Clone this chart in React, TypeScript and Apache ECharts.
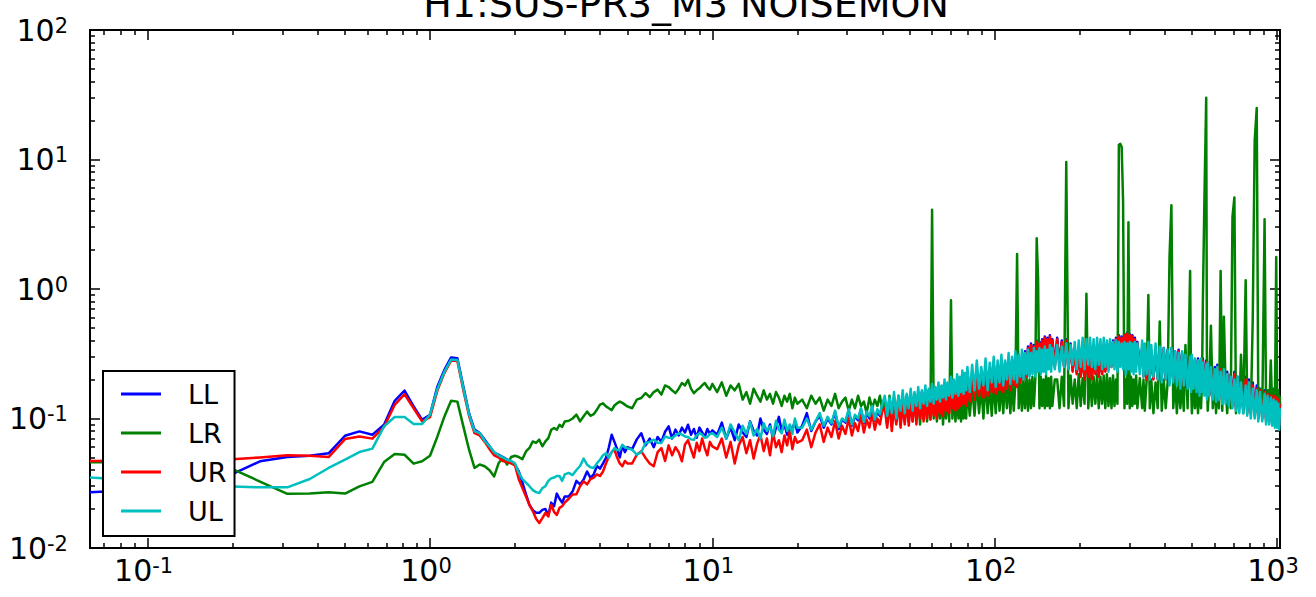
import React, { useEffect, useRef } from 'react';
import * as echarts from 'echarts';

// Frequency bins (Hz)
const freq = [
  0.0625, 0.125, 0.1875, 0.25, 0.3125, 0.375, 0.4375, 0.5, 0.5625, 0.625, 0.6875, 0.75, 0.8125, 0.875, 0.9375, 1,
  1.0625, 1.125, 1.1875, 1.25, 1.3125, 1.375, 1.4375, 1.5, 1.5625, 1.625, 1.6875, 1.75, 1.8125, 1.875, 1.9375, 2,
  2.0625, 2.125, 2.1875, 2.25, 2.3125, 2.375, 2.4375, 2.5, 2.5625, 2.625, 2.6875, 2.75, 2.8125, 2.875, 2.9375, 3,
  3.1, 3.2, 3.3, 3.4, 3.5, 3.6, 3.7, 3.8, 3.9, 4, 4.1, 4.2, 4.3, 4.4, 4.5, 4.6, 4.7, 4.8, 4.9, 5,
  5.2, 5.4, 5.6, 5.8, 6, 6.2, 6.4, 6.6, 6.8, 7, 7.2, 7.4, 7.6, 7.8, 8, 8.2, 8.4, 8.6, 8.8, 9, 9.2, 9.4, 9.6, 9.8, 10,
  10.4, 10.8, 11.2, 11.6, 12, 12.4, 12.8, 13.2, 13.6, 14, 14.4, 14.8, 15.2, 15.6, 16, 16.4, 16.8, 17.2, 17.6, 18, 18.4, 18.8, 19.2, 19.6, 20,
  20.8, 21.6, 22.4, 23.2, 24, 24.8, 25.6, 26.4, 27.2, 28, 28.8, 29.6, 30.4, 31.2, 32, 32.8, 33.6, 34.4, 35.2, 36, 36.8, 37.6, 38.4, 39.2, 40,
  40.8, 41.6, 42.4, 43.2, 44, 44.8, 45.6, 46.4, 47.2, 48, 48.8, 49.6, 50.4, 51.2, 52, 52.8, 53.6, 54.4, 55.2, 56,
  56.8, 57.6, 58.4, 59.2, 60, 60.8, 61.6, 62.4, 63.2, 64, 64.8, 65.6, 66.4, 67.2, 68, 69, 70, 70.8, 71.6, 72.6,
  73.6, 74.4, 75.2, 76, 76.8, 77.6, 78.4, 79.2, 80, 81.6,
  83.2, 84.8, 86.4, 88, 89.6, 91.2, 92.8, 94.4, 96, 97.6, 99.2, 100.8, 102.4, 104, 105.6, 107.2, 108.8, 110.4, 112, 113.6,
  115.2, 116.8, 118.4, 120, 121.6, 123.2, 124.8, 126.4, 128, 129.6, 131.2, 132.8, 134.4, 136, 137.6, 139.2, 140.8, 142.4, 144, 145.6,
  147.2, 148.8, 150.4, 152, 153.6, 155.2, 156.8, 158.4, 160, 163.2,
  166.4, 169.6, 172.8, 176, 179.2, 182.4, 185.6, 188.8, 192, 195.2, 198.4, 201.6, 204.8, 208, 211.2, 214.4, 217.6, 220.8, 224, 227.2,
  230.4, 233.6, 236.8, 240, 243.2, 246.4, 249.6, 252.8, 256, 259.2, 262.4, 265.6, 268.8, 272, 275.2, 278.4, 281.6, 284.8, 288, 291.2,
  294.4, 297.5, 300.8, 304, 307.2, 310.4, 313.6, 316.8, 320, 326.4,
  332.8, 336.4, 340, 345, 350, 354.2, 358.4, 364.8, 371.2, 377.6, 384, 390.4, 396.8, 403.2, 409.6, 416, 422.4, 428.8, 435.2, 441.6,
  448, 454.4, 460.8, 467.2, 473.6, 482, 492, 495.6, 499.2, 505.6, 512, 518.4, 524.8, 531.2, 537.6, 542, 546, 553, 561, 564.5,
  568, 575.5, 583, 592, 601.6, 608, 614.4, 622.7, 631, 639.5, 648, 656.8,
  665.6, 675, 685, 695, 706, 715, 725, 735, 745, 759, 774, 784, 795, 807, 820, 833, 847, 858, 870, 886,
  903, 914, 925, 937, 950, 961, 972, 982, 993, 1001, 1010, 1017, 1024,
];

const LL = [
  0.027, 0.029, 0.035, 0.0467, 0.0504, 0.0516, 0.0538, 0.0736, 0.0795, 0.075, 0.0895, 0.137, 0.1645, 0.124, 0.0978, 0.107,
  0.177, 0.238, 0.296, 0.292, 0.177, 0.11, 0.082, 0.0772, 0.0686, 0.061, 0.0542, 0.0525, 0.0504, 0.0481, 0.0467, 0.0441,
  0.039, 0.032, 0.026, 0.0215, 0.0196, 0.0187, 0.0187, 0.0197, 0.02, 0.018, 0.0224, 0.021, 0.0263, 0.024, 0.0224, 0.025,
  0.025, 0.0274, 0.033, 0.031, 0.0338, 0.039, 0.0348, 0.037, 0.043, 0.041, 0.045, 0.0496, 0.06, 0.075, 0.066, 0.058, 0.05, 0.062, 0.055, 0.06,
  0.058, 0.069, 0.077, 0.062, 0.07, 0.06, 0.072, 0.066, 0.079, 0.087, 0.07, 0.082, 0.074, 0.085, 0.078, 0.0895, 0.075, 0.083, 0.071, 0.085, 0.078, 0.072, 0.083, 0.076, 0.081,
  0.075, 0.093, 0.07, 0.085, 0.068, 0.09, 0.078, 0.072, 0.095, 0.08, 0.074, 0.1, 0.082, 0.076, 0.09, 0.07, 0.085, 0.103, 0.08, 0.09, 0.075, 0.088, 0.082, 0.095, 0.078,
  0.088, 0.11, 0.08, 0.095, 0.105, 0.085, 0.1, 0.09, 0.112, 0.083, 0.098, 0.093, 0.115, 0.088, 0.104, 0.097, 0.118, 0.092, 0.11, 0.1, 0.12, 0.096, 0.113, 0.105, 0.125,
  0.135, 0.09, 0.14, 0.088, 0.135, 0.095, 0.145, 0.09, 0.14, 0.098, 0.15, 0.095, 0.145, 0.1, 0.155, 0.098, 0.15, 0.105, 0.16, 0.1,
  0.155, 0.108, 0.165, 0.105, 0.16, 0.11, 0.17, 0.108, 0.165, 0.115, 0.175, 0.11, 0.17, 0.12, 0.18, 0.115, 0.185, 0.125, 0.18, 0.12,
  0.19, 0.125, 0.2, 0.13, 0.195, 0.135, 0.21, 0.13, 0.22, 0.14,
  0.21, 0.15, 0.23, 0.155, 0.22, 0.15, 0.25, 0.16, 0.24, 0.165, 0.26, 0.16, 0.25, 0.17, 0.28, 0.165, 0.27, 0.175, 0.29, 0.17,
  0.28, 0.185, 0.3, 0.18, 0.31, 0.195, 0.29, 0.205, 0.33, 0.215, 0.36, 0.225, 0.38, 0.235, 0.37, 0.245, 0.4, 0.235, 0.39, 0.255,
  0.41, 0.245, 0.43, 0.265, 0.42, 0.255, 0.44, 0.265, 0.41, 0.255,
  0.42, 0.265, 0.4, 0.255, 0.41, 0.245, 0.38, 0.235, 0.35, 0.225, 0.32, 0.215, 0.31, 0.205, 0.3, 0.215, 0.32, 0.205, 0.31, 0.225,
  0.33, 0.215, 0.34, 0.225, 0.35, 0.235, 0.37, 0.245, 0.38, 0.255, 0.4, 0.265, 0.42, 0.275, 0.44, 0.285, 0.43, 0.275, 0.45, 0.285,
  0.46, 0.295, 0.45, 0.285, 0.44, 0.275, 0.42, 0.265, 0.39, 0.255,
  0.35, 0.215, 0.34, 0.205, 0.33, 0.215, 0.32, 0.205, 0.34, 0.205, 0.33, 0.215, 0.35, 0.205, 0.34, 0.195, 0.35, 0.205, 0.33, 0.195,
  0.34, 0.195, 0.32, 0.185, 0.31, 0.185, 0.3, 0.175, 0.29, 0.185, 0.28, 0.175, 0.29, 0.165, 0.28, 0.175, 0.29, 0.165, 0.28, 0.165,
  0.27, 0.155, 0.26, 0.165, 0.25, 0.155, 0.26, 0.145, 0.25, 0.155, 0.24, 0.145,
  0.23, 0.135, 0.22, 0.13, 0.23, 0.125, 0.21, 0.125, 0.2, 0.12, 0.21, 0.115, 0.2, 0.115, 0.19, 0.11, 0.18, 0.105, 0.17, 0.105,
  0.165, 0.1, 0.16, 0.1, 0.155, 0.095, 0.155, 0.095, 0.15, 0.095, 0.145, 0.09, 0.135,
];

const LR = [
  0.046, 0.046, 0.0432, 0.0326, 0.0262, 0.0263, 0.0269, 0.0263, 0.0299, 0.0324, 0.0461, 0.0532, 0.0525, 0.0448, 0.0467, 0.0516,
  0.0727, 0.1037, 0.137, 0.135, 0.0869, 0.0574, 0.0415, 0.0441, 0.0428, 0.0398, 0.0357, 0.0453, 0.0496, 0.0441, 0.0504, 0.0516,
  0.0504, 0.0486, 0.0557, 0.0592, 0.0665, 0.0647, 0.0686, 0.061, 0.0665, 0.0706, 0.0819, 0.0844, 0.0819, 0.0895, 0.086, 0.0949,
  0.096, 0.1, 0.107, 0.095, 0.104, 0.113, 0.105, 0.108, 0.117, 0.128, 0.131, 0.124, 0.12, 0.116, 0.126, 0.131, 0.135, 0.132, 0.128, 0.124,
  0.12, 0.14, 0.144, 0.157, 0.146, 0.16, 0.167, 0.153, 0.18, 0.175, 0.165, 0.157, 0.17, 0.188, 0.18, 0.199, 0.17, 0.157, 0.165, 0.171, 0.18, 0.188, 0.175, 0.167, 0.185,
  0.16, 0.19, 0.15, 0.18, 0.165, 0.185, 0.14, 0.16, 0.13, 0.17, 0.15, 0.135, 0.165, 0.14, 0.155, 0.13, 0.16, 0.145, 0.125, 0.15, 0.135, 0.155, 0.12, 0.145, 0.13,
  0.14, 0.12, 0.15, 0.13, 0.145, 0.115, 0.14, 0.125, 0.155, 0.12, 0.135, 0.145, 0.115, 0.14, 0.12, 0.15, 0.125, 0.135, 0.11, 0.145, 0.12, 0.14, 0.125, 0.15, 0.115,
  0.14, 0.1, 0.15, 0.105, 0.145, 0.095, 0.15, 0.1, 0.155, 0.095, 0.145, 0.1, 0.16, 0.095, 0.15, 0.105, 0.155, 0.09, 0.15, 0.1,
  0.16, 0.095, 0.155, 0.1, 4.1, 0.1, 0.16, 0.095, 0.15, 0.1, 0.165, 0.09, 0.155, 0.1, 0.16, 0.095, 0.82, 0.1, 0.17, 0.095,
  0.16, 0.1, 0.17, 0.095, 0.165, 0.1, 0.175, 0.1, 0.17, 0.105,
  0.18, 0.105, 0.19, 0.11, 0.18, 0.1, 0.2, 0.11, 0.185, 0.105, 0.195, 0.11, 0.2, 0.115, 0.19, 0.11, 0.205, 0.12, 0.195, 0.11,
  0.2, 0.115, 0.19, 1.86, 0.12, 0.205, 0.115, 0.2, 0.12, 0.21, 0.115, 0.2, 0.12, 0.21, 0.125, 0.2, 2.47, 1.2, 0.12, 0.21,
  0.125, 0.2, 0.12, 0.215, 0.125, 0.205, 0.12, 0.21, 0.125, 0.2,
  0.2, 0.12, 0.21, 0.125, 9.57, 0.12, 0.215, 0.13, 0.2, 0.12, 0.22, 0.125, 0.205, 0.13, 0.92, 0.12, 0.215, 0.125, 0.21, 0.13,
  0.22, 0.12, 0.21, 0.13, 0.215, 0.12, 0.22, 0.125, 0.205, 0.12, 0.215, 0.125, 0.2, 0.13, 13, 13.2, 12.5, 4.8, 0.12, 0.2,
  0.13, 3.27, 0.12, 0.21, 0.125, 0.2, 0.13, 0.215, 0.12, 0.205,
  0.12, 0.2, 0.115, 0.195, 0.9, 0.12, 0.2, 0.11, 0.19, 0.12, 0.56, 0.115, 0.2, 0.12, 0.19, 1.8, 4.44, 0.12, 0.2, 0.11,
  0.195, 0.12, 0.19, 0.115, 0.37, 0.12, 1.38, 0.19, 0.11, 0.2, 0.12, 0.19, 0.11, 0.195, 0.12, 0.185, 0.82, 5.1, 30, 0.19,
  0.115, 0.19, 0.52, 0.12, 0.185, 0.11, 0.19, 0.12, 1.38, 0.115, 0.61, 0.18,
  0.11, 0.18, 0.12, 3.6, 5.09, 0.11, 0.17, 0.12, 0.31, 0.11, 1.17, 0.12, 0.17, 0.11, 0.6, 14, 25, 0.12, 0.17, 0.11,
  3.45, 0.12, 0.165, 0.11, 0.28, 0.12, 0.17, 0.11, 1.77, 0.12, 0.165, 0.11, 0.15,
];

const UR = [
  0.047, 0.0475, 0.048, 0.05, 0.052, 0.0516, 0.0504, 0.0694, 0.0727, 0.0699, 0.086, 0.1276, 0.154, 0.12, 0.0949, 0.1026,
  0.165, 0.225, 0.28, 0.278, 0.165, 0.105, 0.077, 0.074, 0.066, 0.058, 0.052, 0.05, 0.047, 0.046, 0.045, 0.0435,
  0.034, 0.029, 0.025, 0.0215, 0.0193, 0.0168, 0.0156, 0.017, 0.0187, 0.0175, 0.0216, 0.019, 0.018, 0.0204, 0.021, 0.0224,
  0.024, 0.0259, 0.026, 0.03, 0.0327, 0.031, 0.034, 0.035, 0.037, 0.036, 0.039, 0.045, 0.051, 0.055, 0.0574, 0.05, 0.045, 0.0428, 0.047, 0.045,
  0.045, 0.0525, 0.056, 0.0496, 0.045, 0.0428, 0.055, 0.059, 0.047, 0.062, 0.052, 0.06, 0.055, 0.0467, 0.063, 0.068, 0.058, 0.05, 0.065, 0.056, 0.07, 0.059, 0.052, 0.066, 0.061,
  0.058, 0.07, 0.05, 0.066, 0.045, 0.062, 0.072, 0.054, 0.068, 0.049, 0.064, 0.075, 0.056, 0.07, 0.052, 0.078, 0.06, 0.068, 0.055, 0.074, 0.062, 0.08, 0.058, 0.072, 0.065,
  0.068, 0.082, 0.06, 0.078, 0.09, 0.066, 0.085, 0.072, 0.095, 0.07, 0.088, 0.076, 0.1, 0.074, 0.092, 0.08, 0.105, 0.078, 0.098, 0.085, 0.11, 0.082, 0.1, 0.09, 0.115,
  0.12, 0.085, 0.13, 0.08, 0.125, 0.09, 0.135, 0.085, 0.13, 0.09, 0.14, 0.088, 0.135, 0.095, 0.145, 0.09, 0.14, 0.1, 0.15, 0.095,
  0.145, 0.1, 0.155, 0.098, 0.15, 0.105, 0.16, 0.1, 0.155, 0.11, 0.165, 0.105, 0.16, 0.115, 0.17, 0.11, 0.175, 0.12, 0.17, 0.115,
  0.18, 0.12, 0.19, 0.125, 0.185, 0.13, 0.2, 0.125, 0.21, 0.135,
  0.2, 0.14, 0.22, 0.15, 0.21, 0.145, 0.24, 0.15, 0.23, 0.16, 0.25, 0.155, 0.24, 0.165, 0.27, 0.16, 0.26, 0.17, 0.28, 0.165,
  0.27, 0.18, 0.29, 0.175, 0.3, 0.19, 0.28, 0.2, 0.32, 0.21, 0.35, 0.22, 0.37, 0.23, 0.36, 0.24, 0.39, 0.23, 0.38, 0.25,
  0.4, 0.24, 0.42, 0.26, 0.41, 0.25, 0.43, 0.26, 0.4, 0.25,
  0.41, 0.26, 0.39, 0.25, 0.4, 0.24, 0.37, 0.23, 0.34, 0.22, 0.31, 0.21, 0.3, 0.2, 0.29, 0.21, 0.31, 0.2, 0.3, 0.22,
  0.32, 0.21, 0.33, 0.22, 0.34, 0.23, 0.36, 0.24, 0.37, 0.25, 0.39, 0.26, 0.41, 0.27, 0.43, 0.28, 0.42, 0.27, 0.44, 0.28,
  0.45, 0.29, 0.44, 0.28, 0.43, 0.27, 0.41, 0.26, 0.38, 0.25,
  0.34, 0.21, 0.33, 0.2, 0.32, 0.21, 0.31, 0.2, 0.33, 0.2, 0.32, 0.21, 0.34, 0.2, 0.33, 0.19, 0.34, 0.2, 0.32, 0.19,
  0.33, 0.19, 0.31, 0.18, 0.3, 0.18, 0.29, 0.17, 0.28, 0.18, 0.27, 0.17, 0.28, 0.16, 0.27, 0.17, 0.28, 0.16, 0.27, 0.16,
  0.26, 0.15, 0.25, 0.16, 0.24, 0.15, 0.25, 0.14, 0.24, 0.15, 0.23, 0.14,
  0.22, 0.13, 0.21, 0.125, 0.22, 0.12, 0.2, 0.12, 0.19, 0.115, 0.2, 0.11, 0.19, 0.11, 0.18, 0.105, 0.17, 0.1, 0.165, 0.1,
  0.16, 0.095, 0.155, 0.095, 0.15, 0.09, 0.15, 0.09, 0.145, 0.09, 0.14, 0.088, 0.13,
];

const UL = [
  0.035, 0.032, 0.03, 0.0294, 0.0294, 0.0341, 0.0415, 0.0481, 0.0551, 0.0585, 0.0869, 0.1026, 0.1026, 0.0906, 0.0906, 0.107,
  0.17, 0.23, 0.285, 0.283, 0.172, 0.108, 0.08, 0.077, 0.067, 0.061, 0.055, 0.052, 0.05, 0.048, 0.047, 0.045,
  0.038, 0.034, 0.032, 0.03, 0.028, 0.027, 0.0266, 0.029, 0.03, 0.033, 0.0345, 0.035, 0.036, 0.036, 0.033, 0.037,
  0.038, 0.0366, 0.04, 0.043, 0.049, 0.044, 0.042, 0.0415, 0.045, 0.048, 0.052, 0.054, 0.0496, 0.055, 0.059, 0.057, 0.0574, 0.0626, 0.06, 0.059,
  0.0574, 0.0525, 0.055, 0.0647, 0.066, 0.0686, 0.065, 0.0647, 0.0727, 0.071, 0.0706, 0.074, 0.077, 0.075, 0.0727, 0.072, 0.069, 0.0686, 0.074, 0.077, 0.075, 0.071, 0.072, 0.076, 0.077,
  0.072, 0.085, 0.07, 0.09, 0.078, 0.068, 0.088, 0.076, 0.094, 0.074, 0.083, 0.07, 0.092, 0.08, 0.087, 0.073, 0.096, 0.082, 0.077, 0.098, 0.08, 0.09, 0.076, 0.1, 0.085,
  0.085, 0.1, 0.082, 0.095, 0.11, 0.088, 0.103, 0.092, 0.115, 0.086, 0.1, 0.095, 0.118, 0.09, 0.107, 0.1, 0.12, 0.094, 0.113, 0.104, 0.125, 0.098, 0.118, 0.108, 0.13,
  0.15, 0.105, 0.145, 0.11, 0.16, 0.1, 0.15, 0.115, 0.165, 0.11, 0.155, 0.12, 0.17, 0.115, 0.16, 0.125, 0.175, 0.12, 0.165, 0.13,
  0.18, 0.125, 0.17, 0.135, 0.185, 0.13, 0.175, 0.14, 0.19, 0.135, 0.18, 0.145, 0.2, 0.14, 0.19, 0.15, 0.21, 0.145, 0.2, 0.155,
  0.22, 0.15, 0.21, 0.16, 0.235, 0.155, 0.225, 0.165, 0.25, 0.16,
  0.26, 0.165, 0.28, 0.17, 0.25, 0.18, 0.29, 0.165, 0.27, 0.19, 0.3, 0.175, 0.28, 0.19, 0.31, 0.18, 0.28, 0.2, 0.32, 0.185,
  0.3, 0.2, 0.33, 0.19, 0.31, 0.21, 0.34, 0.2, 0.32, 0.22, 0.34, 0.21, 0.32, 0.22, 0.35, 0.21, 0.33, 0.23, 0.35, 0.22,
  0.34, 0.23, 0.36, 0.22, 0.34, 0.24, 0.37, 0.23, 0.35, 0.24,
  0.37, 0.23, 0.36, 0.25, 0.38, 0.24, 0.37, 0.26, 0.39, 0.24, 0.4, 0.25, 0.42, 0.24, 0.41, 0.26, 0.42, 0.25, 0.41, 0.24,
  0.42, 0.26, 0.41, 0.24, 0.42, 0.25, 0.4, 0.23, 0.41, 0.25, 0.39, 0.24, 0.4, 0.23, 0.39, 0.25, 0.38, 0.24, 0.39, 0.22,
  0.38, 0.24, 0.39, 0.23, 0.38, 0.22, 0.39, 0.23, 0.38, 0.22,
  0.4, 0.21, 0.38, 0.22, 0.39, 0.2, 0.37, 0.21, 0.38, 0.2, 0.36, 0.19, 0.35, 0.2, 0.34, 0.18, 0.35, 0.19, 0.33, 0.18,
  0.32, 0.17, 0.33, 0.18, 0.31, 0.17, 0.3, 0.16, 0.31, 0.17, 0.29, 0.16, 0.28, 0.15, 0.29, 0.16, 0.27, 0.15, 0.26, 0.14,
  0.27, 0.15, 0.25, 0.14, 0.24, 0.135, 0.25, 0.14, 0.23, 0.13, 0.24, 0.13,
  0.22, 0.125, 0.21, 0.12, 0.2, 0.115, 0.21, 0.11, 0.19, 0.11, 0.18, 0.105, 0.19, 0.1, 0.17, 0.1, 0.165, 0.095, 0.16, 0.095,
  0.155, 0.09, 0.15, 0.09, 0.145, 0.088, 0.14, 0.085, 0.135, 0.085, 0.13, 0.082, 0.12,
];

const seriesNames = ['LL', 'LR', 'UR', 'UL'];
const seriesColors = ['#0000ff', '#008000', '#ff0000', '#00bfbf'];
const seriesValues = [LL, LR, UR, UL];

const xMajor = [0.1, 1, 10, 100, 1000];
const xMinor = [0.07, 0.08, 0.09, 0.2, 0.3, 0.4, 0.5, 0.6, 0.7, 0.8, 0.9, 2, 3, 4, 5, 6, 7, 8, 9, 20, 30, 40, 50, 60, 70, 80, 90, 200, 300, 400, 500, 600, 700, 800, 900];
const yMajor = [0.01, 0.1, 1, 10, 100];
const yMinor = [0.02, 0.03, 0.04, 0.05, 0.06, 0.07, 0.08, 0.09, 0.2, 0.3, 0.4, 0.5, 0.6, 0.7, 0.8, 0.9, 2, 3, 4, 5, 6, 7, 8, 9, 20, 30, 40, 50, 60, 70, 80, 90];

const titleText = 'H1:SUS-PR3_M3 NOISEMON';
const FONT = 'DejaVu Sans';

export default function App() {
  const ref = useRef<HTMLDivElement>(null);

  useEffect(() => {
    document.body.style.margin = '0';
    const chart = echarts.init(ref.current!, null, { renderer: 'svg' });

    const fmt = (v: number) => `{b|10}{s|${Math.round(Math.log10(v))}}`;
    const rich = {
      b: { fontSize: 30, lineHeight: 30, fontFamily: FONT, color: '#000', verticalAlign: 'middle' },
      s: { fontSize: 21, lineHeight: 21, fontFamily: FONT, color: '#000', verticalAlign: 'top', padding: [0, 8, 23, 0] },
    };

    const mkX = (position: string, ticks: number[], len: number, labels: boolean) => ({
      type: 'log',
      logBase: 10,
      min: 0.0625,
      max: 1024,
      position,
      axisLine: { show: true, onZero: false, lineStyle: { color: '#000', width: 2 } },
      axisTick: { show: true, inside: true, length: len, customValues: ticks, lineStyle: { color: '#000', width: 1.5 } },
      axisLabel: labels
        ? { show: true, customValues: xMajor, margin: 7, formatter: fmt, rich }
        : { show: false },
      splitLine: { show: false },
      minorTick: { show: false },
    });
    const mkY = (position: string, ticks: number[], len: number, labels: boolean) => ({
      type: 'log',
      logBase: 10,
      min: 0.01,
      max: 100,
      position,
      axisLine: { show: true, onZero: false, lineStyle: { color: '#000', width: 2 } },
      axisTick: { show: true, inside: true, length: len, customValues: ticks, lineStyle: { color: '#000', width: 1.5 } },
      axisLabel: labels
        ? { show: true, customValues: yMajor, margin: 14, formatter: fmt, rich }
        : { show: false },
      splitLine: { show: false },
      minorTick: { show: false },
    });

    const option = {
      animation: false,
      backgroundColor: '#fff',
      textStyle: { fontFamily: FONT },
      grid: { left: 90, right: 36, top: 30, bottom: 49, containLabel: false, outerBoundsMode: 'none' },
      graphic: [
        {
          type: 'text',
          x: 686,
          y: 4,
          z: 100,
          style: { text: titleText, fontSize: 38, fontFamily: FONT, fill: '#000', textAlign: 'center', textVerticalAlign: 'middle' },
        },
      ],
      legend: {
        orient: 'vertical',
        left: 103,
        top: 371,
        padding: [9, 8, 11, 18],
        itemWidth: 40,
        itemHeight: 3,
        itemGap: 11,
        icon: 'rect',
        backgroundColor: '#fff',
        borderColor: '#000',
        borderWidth: 2,
        borderRadius: 0,
        data: seriesNames,
        textStyle: { fontSize: 27, fontFamily: FONT, color: '#000', lineHeight: 28, padding: [0, 0, 0, 22] },
      },
      xAxis: [
        mkX('bottom', xMajor, 10, true),
        mkX('bottom', xMinor, 5, false),
        mkX('top', xMajor, 10, false),
        mkX('top', xMinor, 5, false),
      ],
      yAxis: [
        mkY('left', yMajor, 10, true),
        mkY('left', yMinor, 5, false),
        mkY('right', yMajor, 10, false),
        mkY('right', yMinor, 5, false),
      ],
      series: seriesNames.map((name, i) => ({
        name,
        type: 'line',
        xAxisIndex: 0,
        yAxisIndex: 0,
        symbol: 'none',
        showSymbol: false,
        clip: true,
        color: seriesColors[i],
        lineStyle: { color: seriesColors[i], width: 2.5, join: 'round' },
        data: freq.map((f, k) => [f, seriesValues[i][k]]),
      })),
    };

    chart.setOption(option as any);
    return () => chart.dispose();
  }, []);

  return <div ref={ref} style={{ width: 1316, height: 597 }} />;
}
